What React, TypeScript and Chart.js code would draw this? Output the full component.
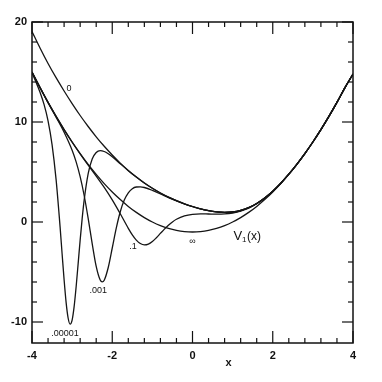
import React, { useEffect, useRef } from 'react';
import { Chart, registerables } from 'chart.js';

Chart.register(...registerables);

// V1(x) (lambda = infinity)
const xInf = [-4,-3.8,-3.6,-3.4,-3.2,-3,-2.8,-2.6,-2.4,-2.2,-2,-1.8,-1.6,-1.4,-1.2,-1,-0.8,-0.6,-0.4,-0.2,0,0.2,0.4,0.6,0.8,1,1.2,1.4,1.6,1.8,2,2.2,2.4,2.6,2.8,3,3.2,3.4,3.6,3.8,4];
const yInf = [15,13.44,11.96,10.56,9.24,8,6.84,5.76,4.76,3.84,3,2.24,1.56,0.96,0.44,0,-0.36,-0.64,-0.84,-0.96,-1,-0.96,-0.84,-0.64,-0.36,0,0.44,0.96,1.56,2.24,3,3.84,4.76,5.76,6.84,8,9.24,10.56,11.96,13.44,14.8];

// lambda = 0
const xL0 = [-4,-3.8,-3.6,-3.4,-3.2,-3,-2.8,-2.6,-2.4,-2.2,-2,-1.8,-1.6,-1.4,-1.2,-1,-0.8,-0.6,-0.4,-0.2,0,0.2,0.4,0.6,0.8,1,1.2,1.4,1.6,1.8,2,2.2,2.4,2.6,2.8,3,3.2,3.4,3.6,3.8,4];
const yL0 = [19.05,17.4,15.85,14.43,13.1,11.84,10.65,9.55,8.52,7.57,6.7,5.89,5.16,4.5,3.9,3.37,2.9,2.49,2.13,1.82,1.55,1.32,1.14,1.02,0.97,1,1.15,1.43,1.85,2.4,3.08,3.88,4.78,5.77,6.84,8,9.24,10.56,11.96,13.44,14.8];

// lambda = .1
const xL1 = [-4,-3.6,-3.2,-3,-2.8,-2.6,-2.4,-2.2,-2,-1.8,-1.6,-1.5,-1.4,-1.3,-1.2,-1.1,-1,-0.9,-0.8,-0.7,-0.6,-0.5,-0.4,-0.2,0,0.2,0.4,0.6,0.8,1,1.2,1.4,1.6,1.8,2,2.2,2.4,2.6,2.8,3,3.2,3.4,3.6,3.8,4];
const yL1 = [15,11.96,9.24,7.99,6.82,5.69,4.59,3.46,2.21,0.82,-0.63,-1.28,-1.81,-2.15,-2.29,-2.21,-1.95,-1.57,-1.14,-0.71,-0.32,0.01,0.27,0.61,0.77,0.81,0.8,0.79,0.81,0.9,1.08,1.38,1.82,2.39,3.08,3.88,4.78,5.77,6.84,8,9.24,10.56,11.96,13.44,14.8];

// lambda = .001
const xL3 = [-4,-3.8,-3.6,-3.4,-3.2,-3,-2.9,-2.8,-2.7,-2.6,-2.5,-2.4,-2.3,-2.25,-2.2,-2.1,-2,-1.9,-1.8,-1.7,-1.6,-1.5,-1.4,-1.3,-1.2,-1,-0.8,-0.6,-0.4,-0.2,0,0.2,0.4,0.6,0.8,1,1.2,1.4,1.6,1.8,2,2.2,2.4,2.6,2.8,3,3.2,3.4,3.6,3.8,4];
const yL3 = [15,13.44,11.94,10.49,8.98,7.18,6.01,4.53,2.65,0.36,-2.16,-4.44,-5.81,-5.99,-5.82,-4.55,-2.6,-0.61,1.03,2.19,2.92,3.33,3.5,3.52,3.45,3.16,2.8,2.43,2.1,1.8,1.54,1.31,1.14,1.02,0.97,1,1.15,1.43,1.85,2.4,3.08,3.88,4.78,5.77,6.84,8,9.24,10.56,11.96,13.44,14.8];

// lambda = .00001
const xL5 = [-4,-3.9,-3.8,-3.7,-3.6,-3.5,-3.4,-3.3,-3.25,-3.2,-3.15,-3.1,-3.05,-3,-2.95,-2.9,-2.85,-2.8,-2.75,-2.7,-2.6,-2.5,-2.4,-2.3,-2.2,-2.1,-2,-1.8,-1.6,-1.4,-1.2,-1,-0.8,-0.6,-0.4,-0.2,0,0.2,0.4,0.6,0.8,1,1.2,1.4,1.6,1.8,2,2.2,2.4,2.6,2.8,3,3.2,3.4,3.6,3.8,4];
const yL5 = [14.9,13.99,12.98,11.76,10.12,7.74,4.26,-0.49,-3.17,-5.78,-8.04,-9.6,-10.22,-9.81,-8.47,-6.47,-4.16,-1.81,0.34,2.19,4.83,6.29,6.95,7.14,7.05,6.82,6.52,5.83,5.13,4.49,3.9,3.37,2.9,2.49,2.13,1.82,1.55,1.32,1.14,1.02,0.97,1,1.15,1.43,1.85,2.4,3.08,3.88,4.78,5.77,6.84,8,9.24,10.56,11.96,13.44,14.8];

const xMajorTicks = [-4, -2, 0, 2, 4];
const xMinorTicks = [-3.6,-3.2,-2.8,-2.4,-1.6,-1.2,-0.8,-0.4,0.4,0.8,1.2,1.6,2.4,2.8,3.2,3.6];
const yMajorTicks = [-10, 0, 10, 20];
const yMinorTicks = [-8,-6,-4,-2,2,4,6,8,12,14,16,18];

const curveLabels = [
  { text: '0', x: -3.08, y: 13.3 },
  { text: '.1', x: -1.48, y: -2.5 },
  { text: '.001', x: -2.35, y: -6.9 },
  { text: '.00001', x: -3.18, y: -11.2 },
  { text: '∞', x: 0.0, y: -1.95 },
];
const v1Label = { x: 1.02, y: -1.45 };
const xTitle = { text: 'x', x: 0.9 };

const FONT = 'Liberation Sans, DejaVu Sans, sans-serif';

const toPts = (xs: number[], ys: number[]) => xs.map((x, i) => ({ x, y: ys[i] }));

const overlay = {
  id: 'overlay',
  afterDraw(chart: any) {
    const { ctx, chartArea: a, scales } = chart;
    const xs = scales.x, ys = scales.y;
    const ink = '#111';
    ctx.save();
    ctx.strokeStyle = ink;
    ctx.fillStyle = ink;
    ctx.lineWidth = 1.5;
    ctx.strokeRect(a.left, a.top, a.right - a.left, a.bottom - a.top);
    const seg = (x1: number, y1: number, x2: number, y2: number) => {
      ctx.beginPath(); ctx.moveTo(x1, y1); ctx.lineTo(x2, y2); ctx.stroke();
    };
    ctx.lineWidth = 1.2;
    const tx = (v: number, len: number) => {
      const p = xs.getPixelForValue(v);
      seg(p, a.bottom, p, a.bottom - len);
      seg(p, a.top, p, a.top + len);
    };
    const ty = (v: number, len: number) => {
      const p = ys.getPixelForValue(v);
      seg(a.left, p, a.left + len, p);
      seg(a.right, p, a.right - len, p);
    };
    xMajorTicks.forEach(v => tx(v, 12));
    xMinorTicks.forEach(v => tx(v, 5));
    yMajorTicks.forEach(v => ty(v, 11));
    yMinorTicks.forEach(v => ty(v, 5));

    ctx.textAlign = 'center';
    ctx.textBaseline = 'middle';
    curveLabels.forEach(l => {
      ctx.font = `9px ${FONT}`;
      ctx.fillText(l.text, xs.getPixelForValue(l.x), ys.getPixelForValue(l.y));
    });
    // V1(x)
    let px = xs.getPixelForValue(v1Label.x);
    const py = ys.getPixelForValue(v1Label.y);
    ctx.textAlign = 'left';
    ctx.font = `13px ${FONT}`;
    ctx.fillText('V', px, py);
    px += ctx.measureText('V').width;
    ctx.font = `8px ${FONT}`;
    ctx.fillText('1', px, py + 3);
    px += ctx.measureText('1').width + 0.5;
    ctx.font = `12px ${FONT}`;
    ctx.fillText('(x)', px, py);
    // axis title
    ctx.textAlign = 'center';
    ctx.font = `bold 11px ${FONT}`;
    ctx.fillText(xTitle.text, xs.getPixelForValue(xTitle.x), a.bottom + 20);
    ctx.restore();
  },
};

export default function App() {
  const ref = useRef<HTMLCanvasElement | null>(null);
  useEffect(() => {
    document.body.style.margin = '0';
    const canvas = ref.current!;
    const mk = (xs: number[], ys: number[]) => ({
      data: toPts(xs, ys),
      borderColor: '#151515',
      borderWidth: 1.3,
      pointRadius: 0,
      fill: false,
      cubicInterpolationMode: 'monotone' as const,
    });
    const chart = new Chart(canvas, {
      type: 'line',
      data: {
        datasets: [
          { label: '∞', ...mk(xInf, yInf) },
          { label: '0', ...mk(xL0, yL0) },
          { label: '.1', ...mk(xL1, yL1) },
          { label: '.001', ...mk(xL3, yL3) },
          { label: '.00001', ...mk(xL5, yL5) },
        ],
      },
      options: {
        animation: false,
        responsive: false,
        devicePixelRatio: 1,
        layout: { padding: { left: 0, top: 22, right: 29, bottom: 0 } },
        plugins: { legend: { display: false }, tooltip: { enabled: false }, title: { display: false } },
        scales: {
          x: {
            type: 'linear',
            min: -4,
            max: 4,
            grid: { display: false, drawTicks: false },
            border: { display: false },
            afterFit: (s: any) => { s.height = 39; },
            afterBuildTicks: (s: any) => { s.ticks = xMajorTicks.map(v => ({ value: v })); },
            ticks: { padding: 6, color: '#111', font: { family: FONT, size: 11, weight: 'bold' }, maxRotation: 0 },
          },
          y: {
            type: 'linear',
            min: -12.1,
            max: 20,
            grid: { display: false, drawTicks: false },
            border: { display: false },
            afterFit: (s: any) => { s.width = 32; },
            afterBuildTicks: (s: any) => { s.ticks = yMajorTicks.map(v => ({ value: v })); },
            ticks: { padding: 5, color: '#111', font: { family: FONT, size: 11, weight: 'bold' } },
          },
        },
      },
      plugins: [overlay],
    });
    return () => chart.destroy();
  }, []);
  return (
    <div style={{ width: 382, height: 382, background: '#fff' }}>
      <canvas ref={ref} width={382} height={382} />
    </div>
  );
}
